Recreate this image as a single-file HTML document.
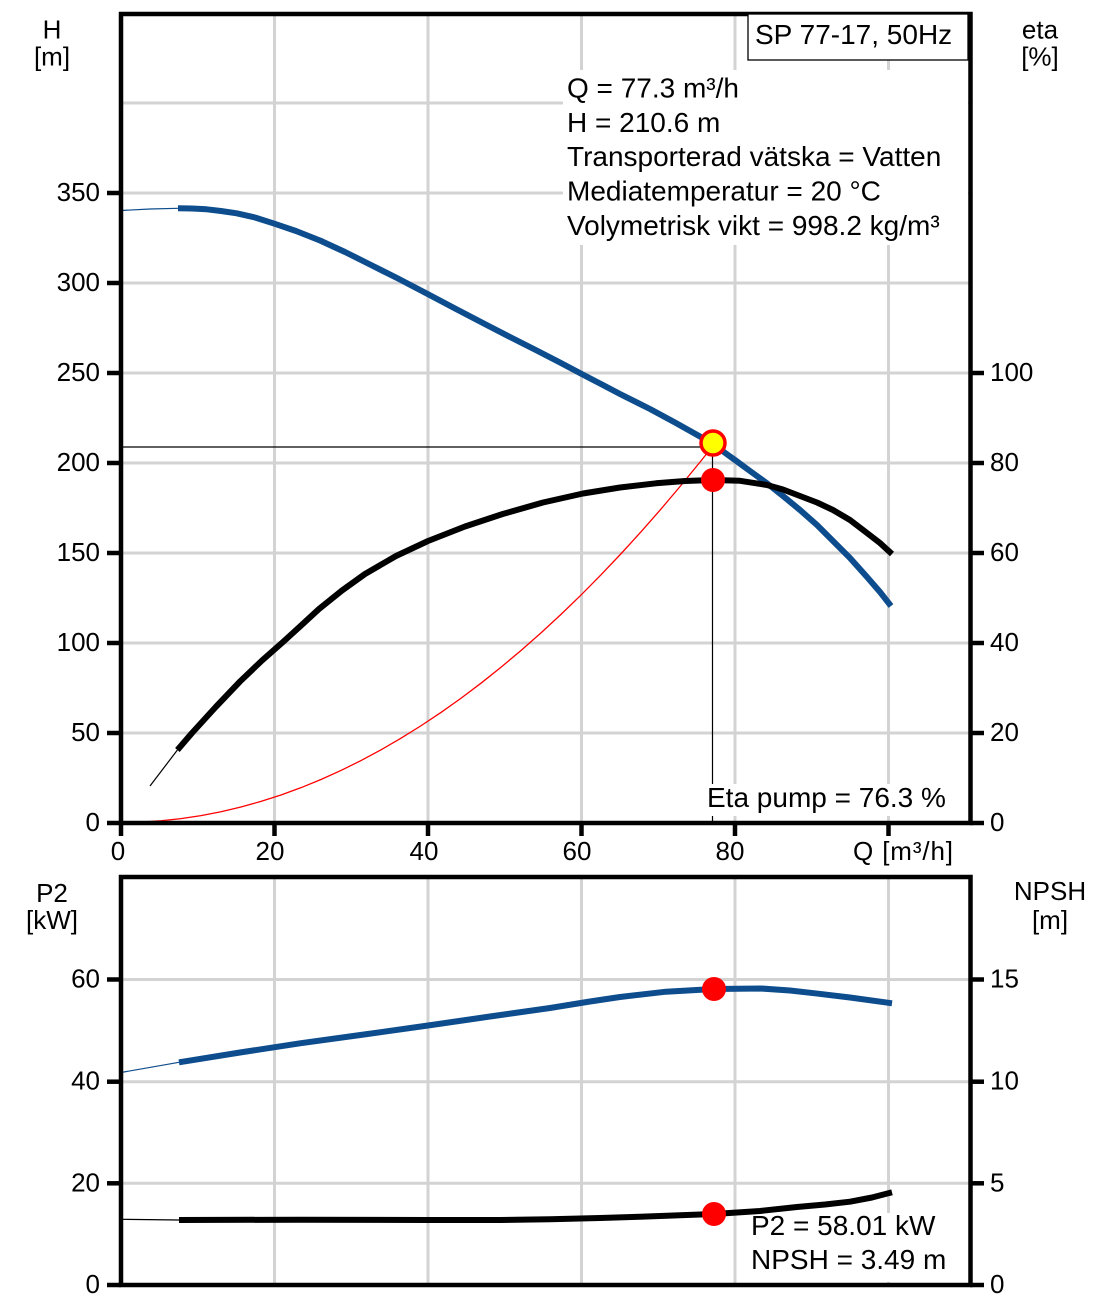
<!DOCTYPE html>
<html><head><meta charset="utf-8"><style>
html,body{margin:0;padding:0;background:#fff;}
svg{display:block;}
text{font-family:"Liberation Sans",Arial,sans-serif;fill:#000;}
</style></head><body>
<svg width="1103" height="1304" viewBox="0 0 1103 1304" xmlns="http://www.w3.org/2000/svg">
<rect x="0" y="0" width="1103" height="1304" fill="#fff"/>

<!-- grid top -->
<g stroke="#d3d3d3" stroke-width="3" fill="none">
<line x1="121" y1="103" x2="970" y2="103"/>
<line x1="121" y1="193" x2="970" y2="193"/>
<line x1="121" y1="283" x2="970" y2="283"/>
<line x1="121" y1="373" x2="970" y2="373"/>
<line x1="121" y1="463" x2="970" y2="463"/>
<line x1="121" y1="553" x2="970" y2="553"/>
<line x1="121" y1="643" x2="970" y2="643"/>
<line x1="121" y1="733" x2="970" y2="733"/>
<line x1="274.5" y1="14" x2="274.5" y2="823"/>
<line x1="428" y1="14" x2="428" y2="823"/>
<line x1="581.5" y1="14" x2="581.5" y2="823"/>
<line x1="735" y1="14" x2="735" y2="823"/>
<line x1="888.5" y1="14" x2="888.5" y2="823"/>
<!-- grid bottom -->
<line x1="121" y1="979.5" x2="970" y2="979.5"/>
<line x1="121" y1="1081.7" x2="970" y2="1081.7"/>
<line x1="121" y1="1183.3" x2="970" y2="1183.3"/>
<line x1="274.5" y1="877" x2="274.5" y2="1285"/>
<line x1="428" y1="877" x2="428" y2="1285"/>
<line x1="581.5" y1="877" x2="581.5" y2="1285"/>
<line x1="735" y1="877" x2="735" y2="1285"/>
<line x1="888.5" y1="877" x2="888.5" y2="1285"/>
</g>

<!-- duty point lines -->
<g stroke="#000" stroke-width="1.2" fill="none">
<line x1="121" y1="447" x2="712.5" y2="447"/>
<line x1="712.5" y1="447" x2="712.5" y2="823"/>
</g>

<!-- label backgrounds -->
<rect x="563" y="70" width="405" height="175" fill="#fff"/>
<rect x="703" y="784" width="250" height="32" fill="#fff"/>
<rect x="746" y="1213" width="210" height="69" fill="#fff"/>

<!-- system curve (red parabola) -->
<polyline fill="none" stroke="#ff0000" stroke-width="1.3" points="121,822.5 141,822.07 161,820.78 181,818.63 201,815.62 221,811.75 241,807.02 261,801.43 281,794.98 301,787.67 321,779.5 341,770.47 361,760.58 381,749.83 401,738.22 421,725.75 441,712.42 461,698.23 481,683.18 501,667.27 521,650.5 541,632.87 561,614.38 581,595.03 601,574.82 621,553.75 641,531.82 661,509.03 681,485.38 701,460.87 712,447"/>

<!-- head curve -->
<polyline fill="none" stroke="#0d4c8d" stroke-width="1.2" points="121,210.5 150,209 178,208.3"/>
<polyline fill="none" stroke="#0d4c8d" stroke-width="6" stroke-linejoin="round" points="178,208.3 192,208.5 206.7,209.3 221,211 236.7,213.3 255,217.5 273.3,223.3 296,231 320,240.5 345,252 370,264.5 398,278.5 426.7,293.5 456,309 486.7,325 511,337.5 536.7,350.5 560,362.5 581.7,374 600,383.5 620,394 650,409 675,422.5 700,436.5 713,444 728,455 735,460 750,471 767,483.3 783,496 800,510 817,525 833,541 850,558 867,577 880,592 891,606"/>

<!-- eta curve -->
<polyline fill="none" stroke="#000" stroke-width="1.2" points="150,786 177.4,750"/>
<polyline fill="none" stroke="#000" stroke-width="6" stroke-linejoin="round" points="177.4,750 192,733 215.7,707 240,681.5 262,660.5 283,642 300,626.5 319,609 342,590.5 365,574 396,556 428,541 465,526.5 502.7,514 543,502.5 583,493.5 620,487.5 656,483.3 685,481 713,480 740,480.8 767,485 783,489.5 800,496 817,502.5 833,510 850,520 867,533 880,543 892,554"/>

<!-- P2 curve -->
<polyline fill="none" stroke="#0d4c8d" stroke-width="1.2" points="121,1072.5 179,1062.3"/>
<polyline fill="none" stroke="#0d4c8d" stroke-width="6" stroke-linejoin="round" points="179,1062.3 240,1052.5 300,1043.3 364,1034.5 428,1025.5 490,1016.5 550,1008 590,1001.5 620,997 666,991.7 714,989 761,988.5 790,990.5 815,993.3 850,997.5 892,1003.3"/>

<!-- NPSH curve -->
<polyline fill="none" stroke="#000" stroke-width="1.2" points="121,1219.3 179,1220"/>
<polyline fill="none" stroke="#000" stroke-width="6" stroke-linejoin="round" points="179,1220 300,1219.7 428,1220 500,1220 550,1219.3 600,1218 640,1216.7 680,1215.3 714,1214 760,1211 797,1207 825,1204.5 850,1201.7 872,1197.5 892,1192.3"/>

<!-- markers -->
<circle cx="713" cy="443" r="12" fill="#ffff00" stroke="#ff0000" stroke-width="3.5"/>
<circle cx="713" cy="480" r="12" fill="#ff0000"/>
<circle cx="714" cy="989" r="12" fill="#ff0000"/>
<circle cx="714" cy="1214" r="12" fill="#ff0000"/>

<!-- frames -->
<g stroke="#000" stroke-width="4.5" fill="none">
<rect x="121" y="14" width="849.5" height="809"/>
<rect x="121" y="877" width="849.5" height="408"/>
</g>

<!-- ticks -->
<g stroke="#000" stroke-width="4.5">
<line x1="107" y1="823" x2="121" y2="823"/>
<line x1="107" y1="733" x2="121" y2="733"/>
<line x1="107" y1="643" x2="121" y2="643"/>
<line x1="107" y1="553" x2="121" y2="553"/>
<line x1="107" y1="463" x2="121" y2="463"/>
<line x1="107" y1="373" x2="121" y2="373"/>
<line x1="107" y1="283" x2="121" y2="283"/>
<line x1="107" y1="193" x2="121" y2="193"/>
<line x1="970" y1="823" x2="984" y2="823"/>
<line x1="970" y1="733" x2="984" y2="733"/>
<line x1="970" y1="643" x2="984" y2="643"/>
<line x1="970" y1="553" x2="984" y2="553"/>
<line x1="970" y1="463" x2="984" y2="463"/>
<line x1="970" y1="373" x2="984" y2="373"/>
<line x1="121" y1="823" x2="121" y2="836"/>
<line x1="274.5" y1="823" x2="274.5" y2="836"/>
<line x1="428" y1="823" x2="428" y2="836"/>
<line x1="581.5" y1="823" x2="581.5" y2="836"/>
<line x1="735" y1="823" x2="735" y2="836"/>
<line x1="888.5" y1="823" x2="888.5" y2="836"/>
<line x1="107" y1="1285" x2="121" y2="1285"/>
<line x1="107" y1="1183.3" x2="121" y2="1183.3"/>
<line x1="107" y1="1081.7" x2="121" y2="1081.7"/>
<line x1="107" y1="979.5" x2="121" y2="979.5"/>
<line x1="970" y1="1285" x2="984" y2="1285"/>
<line x1="970" y1="1183.3" x2="984" y2="1183.3"/>
<line x1="970" y1="1081.7" x2="984" y2="1081.7"/>
<line x1="970" y1="979.5" x2="984" y2="979.5"/>
</g>

<!-- SP box -->
<rect x="748" y="14" width="220" height="46" fill="#fff" stroke="#000" stroke-width="1.3"/>
<text x="755" y="44" font-size="28">SP 77-17, 50Hz</text>

<!-- info text -->
<g font-size="28">
<text x="567" y="97.5">Q = 77.3 m³/h</text>
<text x="567" y="132">H = 210.6 m</text>
<text x="567" y="166">Transporterad vätska = Vatten</text>
<text x="567" y="200.5">Mediatemperatur = 20 °C</text>
<text x="567" y="235">Volymetrisk vikt = 998.2 kg/m³</text>
<text x="707" y="807">Eta pump = 76.3 %</text>
<text x="751" y="1235">P2 = 58.01 kW</text>
<text x="751" y="1269">NPSH = 3.49 m</text>
</g>

<!-- axis titles -->
<g font-size="26" text-anchor="middle">
<text x="52" y="38.5">H</text>
<text x="52" y="65.5">[m]</text>
<text x="1040" y="38.5">eta</text>
<text x="1040" y="65.5">[%]</text>
<text x="52" y="902">P2</text>
<text x="52" y="929">[kW]</text>
<text x="1050" y="900">NPSH</text>
<text x="1050" y="929">[m]</text>
</g>

<!-- left tick labels -->
<g font-size="26" text-anchor="end">
<text x="100" y="831">0</text>
<text x="100" y="741">50</text>
<text x="100" y="651">100</text>
<text x="100" y="561">150</text>
<text x="100" y="471">200</text>
<text x="100" y="381">250</text>
<text x="100" y="291">300</text>
<text x="100" y="201">350</text>
<text x="100" y="1293">0</text>
<text x="100" y="1191.3">20</text>
<text x="100" y="1089.7">40</text>
<text x="100" y="987.5">60</text>
</g>

<!-- right tick labels -->
<g font-size="26">
<text x="990" y="831">0</text>
<text x="990" y="741">20</text>
<text x="990" y="651">40</text>
<text x="990" y="561">60</text>
<text x="990" y="471">80</text>
<text x="990" y="381">100</text>
<text x="990" y="1293">0</text>
<text x="990" y="1191.3">5</text>
<text x="990" y="1089.7">10</text>
<text x="990" y="987.5">15</text>
</g>

<!-- x tick labels -->
<g font-size="26" text-anchor="middle">
<text x="118" y="860">0</text>
<text x="270" y="860">20</text>
<text x="424" y="860">40</text>
<text x="577" y="860">60</text>
<text x="730" y="860">80</text>
</g>
<text x="853" y="860" font-size="26" textLength="100" lengthAdjust="spacing">Q [m³/h]</text>
</svg>
</body></html>
